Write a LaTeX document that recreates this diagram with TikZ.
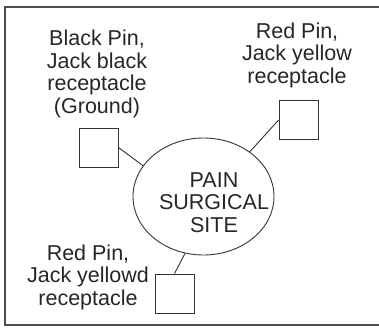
\documentclass[tikz,border=0pt]{standalone}
\usepackage{fontspec}
\setmainfont{Liberation Sans}
\usetikzlibrary{shapes.geometric}
\begin{document}
\begin{tikzpicture}[x=1pt,y=-1pt,
  lbl/.style={align=center,inner sep=0pt,anchor=base,font=\fontsize{21.5}{22.5}\selectfont,text=black!85},
  pinbox/.style={draw=black!80,line width=0.9pt,minimum size=39pt,inner sep=0pt},
  wire/.style={draw=black!80,line width=0.9pt}]
\useasboundingbox (0,0) rectangle (379,329);
\draw[black!70,line width=1.4pt] (379,7) -- (5,7) -- (5,325) -- (379,325);
\node[draw=black!80,line width=0.9pt,ellipse,minimum width=141pt,minimum height=117pt,inner sep=0pt] (e) at (203.5,196.5) {};
\node[lbl] (et) at (214,232) {PAIN\\SURGICAL\\SITE};
\node[pinbox] (b1) at (98.5,147.5) {};
\node[pinbox] (b2) at (298.5,120) {};
\node[pinbox] (b3) at (174.5,293.5) {};
\node[lbl] (t1) at (97,113) {Black Pin,\\Jack black\\receptacle\\(Ground)};
\node[lbl] (t2) at (297,83) {Red Pin,\\Jack yellow\\receptacle};
\node[lbl] (t3) at (88,305) {Red Pin,\\Jack yellowd\\receptacle};
\draw[wire] (b1.east) -- (e.153);
\draw[wire] (b2.west) -- (e.44);
\draw[wire] (b3.north) -- (e.252);
\end{tikzpicture}
\end{document}
